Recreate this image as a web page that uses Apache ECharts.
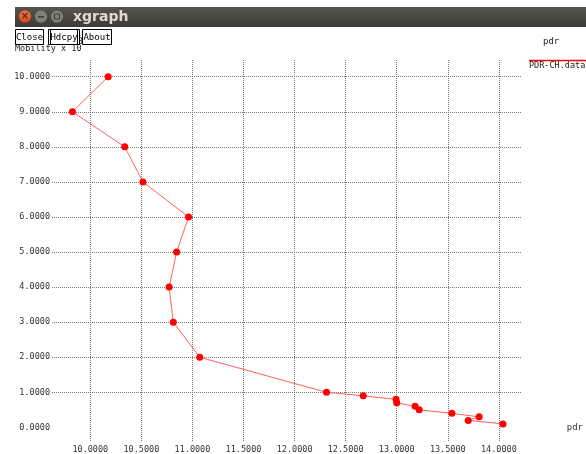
<!DOCTYPE html>
<html>
<head>
<meta charset="utf-8">
<script src="https://cdn.jsdelivr.net/npm/echarts@6/dist/echarts.min.js"></script>
<style>
html,body{margin:0;padding:0;background:#fff;}
#c{width:586px;height:454px;}
</style>
</head>
<body>
<div id="c"></div>
<script>
// Data
const mobility = [10, 9, 8, 7, 6, 5, 4, 3, 2, 1, 0.9, 0.8, 0.7, 0.6, 0.5, 0.4, 0.3, 0.2, 0.1];
const pdr = [10.175, 9.825, 10.337, 10.515, 10.962, 10.845, 10.772, 10.813, 11.071,
             12.313, 12.672, 12.993, 13.0, 13.18, 13.22, 13.54, 13.807, 13.70, 14.04];
const xTicks = [10, 10.5, 11, 11.5, 12, 12.5, 13, 13.5, 14];
const yTicks = [0, 1, 2, 3, 4, 5, 6, 7, 8, 9, 10];
const yGrid = [1, 2, 3, 4, 5, 6, 7, 8, 9, 10];
const seriesName = 'PDR-CH.data';

const MONO = '"DejaVu Sans Mono", "Liberation Mono", monospace';
const chart = echarts.init(document.getElementById('c'), null, {renderer: 'canvas'});

const gridLineStyle = {color: '#7a7a7a', width: 1, type: [1, 1]};

chart.setOption({
  backgroundColor: '#ffffff',
  animation: false,
  grid: {left: 52, right: 61, top: 60, bottom: 13},
  xAxis: {
    type: 'value', min: 9.625, max: 14.224,
    axisLine: {show: false}, axisTick: {show: false}, splitLine: {show: false},
    axisLabel: {customValues: xTicks, formatter: v => v.toFixed(4), margin: 4,
      fontFamily: MONO, fontSize: 8.5, color: '#333'},
    name: 'pdr', nameLocation: 'end', nameGap: 45,
    nameTextStyle: {fontFamily: MONO, fontSize: 9, color: '#333', verticalAlign: 'middle'}
  },
  yAxis: {
    type: 'value', min: -0.388, max: 10.476,
    axisLine: {show: false}, axisTick: {show: false}, splitLine: {show: false},
    axisLabel: {customValues: yTicks, formatter: v => v.toFixed(4), margin: 2,
      fontFamily: MONO, fontSize: 8.5, color: '#333'}
  },
  series: [
    {
      type: 'scatter', data: [], z: 1, silent: true,
      markLine: {
        z: 1,
        silent: true, symbol: ['none', 'none'], label: {show: false},
        lineStyle: gridLineStyle, animation: false,
        emphasis: {disabled: true},
        data: yGrid.map(v => ({yAxis: v})).concat(xTicks.map(v => ({xAxis: v})))
      }
    },
    {
      name: seriesName, type: 'line', z: 6,
      data: pdr.map((x, i) => [x, mobility[i]]),
      symbol: 'circle', symbolSize: 7,
      itemStyle: {color: '#ff0000', borderWidth: 0, opacity: 1},
      lineStyle: {color: '#ff6060', width: 1},
      emphasis: {disabled: true}
    }
  ],
  graphic: [
    // window title bar
    {type: 'rect', shape: {x: 15, y: 7, width: 571, height: 20},
      style: {fill: new echarts.graphic.LinearGradient(0, 0, 0, 1, [
        {offset: 0, color: '#55544f'}, {offset: 1, color: '#3c3b37'}])}},
    {type: 'circle', shape: {cx: 25, cy: 16.5, r: 6.5},
      style: {fill: new echarts.graphic.LinearGradient(0, 0, 0, 1, [
        {offset: 0, color: '#f7743e'}, {offset: 1, color: '#d9471a'}]), stroke: '#3a3935', lineWidth: 0.5}},
    {type: 'text', style: {x: 25, y: 16.5, text: '×', fill: '#3c3b37', font: 'bold 10px "DejaVu Sans"', align: 'center', verticalAlign: 'middle'}},
    {type: 'circle', shape: {cx: 41, cy: 16.5, r: 6.5},
      style: {fill: '#807f7a', stroke: '#3a3935', lineWidth: 0.5}},
    {type: 'rect', shape: {x: 38, y: 16, width: 6, height: 1.5}, style: {fill: '#3c3b37'}},
    {type: 'circle', shape: {cx: 57, cy: 16.5, r: 6.5},
      style: {fill: '#807f7a', stroke: '#3a3935', lineWidth: 0.5}},
    {type: 'rect', shape: {x: 54.5, y: 14, width: 5, height: 5}, style: {fill: 'none', stroke: '#3c3b37', lineWidth: 1}},
    {type: 'text', style: {x: 73, y: 17, text: 'xgraph', fill: '#dfdbd2', font: 'bold 14px "DejaVu Sans"', verticalAlign: 'middle'}},
    // y axis title (drawn before buttons, which overlap it)
    {type: 'text', z: 10, style: {x: 15, y: 49, text: 'Mobility x 10', fill: '#222', font: '8.5px ' + MONO, verticalAlign: 'middle'}},
    {type: 'text', z: 10, style: {x: 78, y: 42, text: '3', fill: '#222', font: '8px ' + MONO, verticalAlign: 'middle'}},
    // buttons
    {type: 'rect', z: 11, shape: {x: 15.5, y: 29.5, width: 28, height: 15}, style: {fill: '#fff', stroke: '#000', lineWidth: 1}},
    {type: 'text', z: 12, style: {x: 29.5, y: 37.5, text: 'Close', fill: '#000', font: '9px ' + MONO, align: 'center', verticalAlign: 'middle'}},
    {type: 'rect', z: 11, shape: {x: 48.5, y: 29.5, width: 31, height: 15}, style: {fill: '#fff', stroke: '#000', lineWidth: 1}},
    {type: 'rect', z: 11, shape: {x: 50.5, y: 29.5, width: 27, height: 15}, style: {fill: 'none', stroke: '#000', lineWidth: 1}},
    {type: 'text', z: 12, style: {x: 64, y: 37.5, text: 'Hdcpy', fill: '#000', font: '9px ' + MONO, align: 'center', verticalAlign: 'middle'}},
    {type: 'rect', z: 11, shape: {x: 82.5, y: 29.5, width: 29, height: 15}, style: {fill: '#fff', stroke: '#000', lineWidth: 1}},
    {type: 'text', z: 12, style: {x: 97, y: 37.5, text: 'About', fill: '#000', font: '9px ' + MONO, align: 'center', verticalAlign: 'middle'}},
    // top-right label and legend
    {type: 'text', style: {x: 543, y: 42, text: 'pdr', fill: '#222', font: '9px ' + MONO, verticalAlign: 'middle'}},
    {type: 'line', shape: {x1: 529, y1: 60.5, x2: 586, y2: 60.5}, style: {stroke: '#ff0000', lineWidth: 1.5}},
    {type: 'text', style: {x: 529, y: 66, text: seriesName, fill: '#222', font: '8.5px ' + MONO, verticalAlign: 'middle'}}
  ]
});
</script>
</body>
</html>
